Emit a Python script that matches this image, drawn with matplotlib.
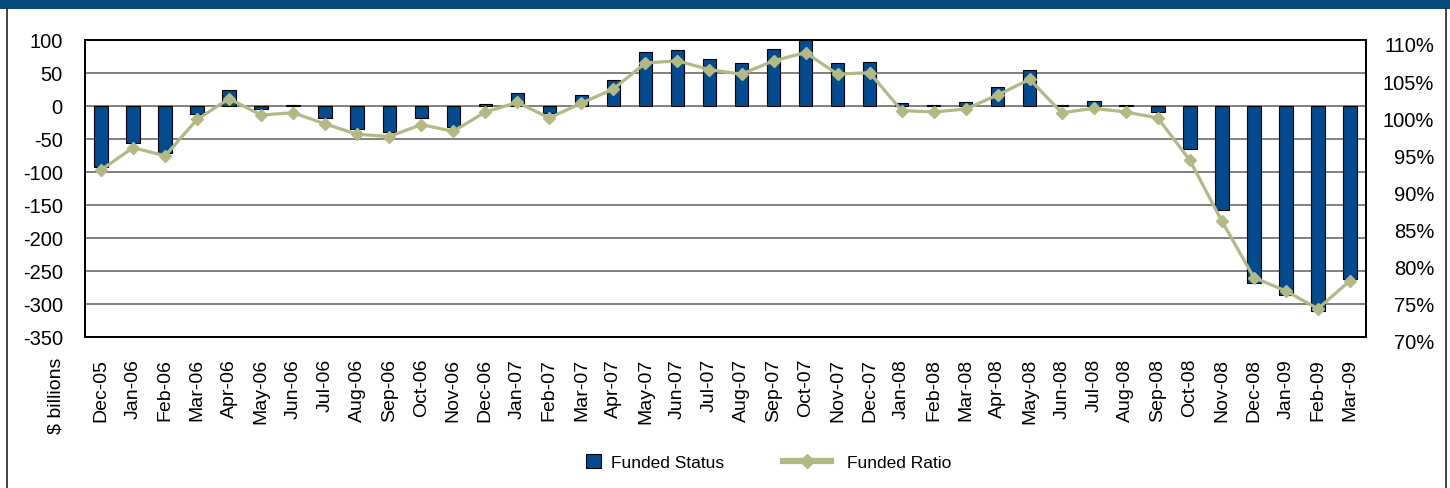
import matplotlib
matplotlib.use('Agg')
import matplotlib.pyplot as plt
from matplotlib.patches import Rectangle, Patch
from matplotlib.lines import Line2D
from matplotlib.transforms import ScaledTranslation
import numpy as np

plt.rcParams['font.family'] = ['Liberation Sans', 'DejaVu Sans']
plt.rcParams['axes.unicode_minus'] = False

months = ['Dec-05', 'Jan-06', 'Feb-06', 'Mar-06', 'Apr-06', 'May-06', 'Jun-06', 'Jul-06',
          'Aug-06', 'Sep-06', 'Oct-06', 'Nov-06', 'Dec-06', 'Jan-07', 'Feb-07', 'Mar-07',
          'Apr-07', 'May-07', 'Jun-07', 'Jul-07', 'Aug-07', 'Sep-07', 'Oct-07', 'Nov-07',
          'Dec-07', 'Jan-08', 'Feb-08', 'Mar-08', 'Apr-08', 'May-08', 'Jun-08', 'Jul-08',
          'Aug-08', 'Sep-08', 'Oct-08', 'Nov-08', 'Dec-08', 'Jan-09', 'Feb-09', 'Mar-09']

# Funded status, $ billions
funded_status = [-92, -56.5, -71.5, -11.5, 24, -4, 2, -17.5,
                 -35, -39, -18.5, -32, 3.5, 19, -10.5, 17,
                 39.5, 82.5, 85.5, 70.5, 65.5, 87, 100, 64.5,
                 67, 5, 2, 6.5, 29, 55, 1, 8,
                 2, -8.5, -65.5, -158, -268.5, -287, -310.5, -261.5]

# Funded ratio, %
funded_ratio = [92.5, 95.5, 94.4, 99.3, 102.1, 99.9, 100.2, 98.7,
                97.3, 97.0, 98.6, 97.7, 100.3, 101.6, 99.5, 101.5,
                103.4, 106.9, 107.2, 106.0, 105.4, 107.2, 108.3, 105.4,
                105.6, 100.5, 100.3, 100.7, 102.6, 104.7, 100.2, 100.8,
                100.3, 99.5, 93.8, 85.6, 78.0, 76.2, 73.8, 77.6]

left_ticks = [100, 50, 0, -50, -100, -150, -200, -250, -300, -350]
right_ticks = [110, 105, 100, 95, 90, 85, 80, 75, 70]

bar_color = '#034b8f'
line_color = '#b3b985'

fig = plt.figure(figsize=(14.5, 4.89), dpi=100)

# header band and frame
fig.add_artist(Rectangle((0, 1 - 10 / 489), 1, 10 / 489, transform=fig.transFigure,
                         facecolor='#054a7a', edgecolor='none'))
fig.add_artist(Line2D([7 / 1450, 7 / 1450], [0, 1 - 10 / 489], transform=fig.transFigure,
                      color='#222222', lw=1.2))
fig.add_artist(Line2D([1446 / 1450, 1446 / 1450], [0, 1 - 10 / 489], transform=fig.transFigure,
                      color='#222222', lw=1.2))

ax = fig.add_axes([85 / 1450, 151 / 489, 1281 / 1450, 297 / 489])
x = np.arange(len(months))
ax.bar(x, funded_status, width=0.42, color=bar_color, edgecolor='black', lw=0.8, zorder=3)
ax.set_xlim(-0.5, len(months) - 0.5)
ax.set_ylim(-350, 100)
ax.set_yticks(left_ticks)
ax.set_xticks(x)
ax.set_xticklabels(months, rotation=90, fontsize=14)
ax.tick_params(axis='x', length=0, pad=15)
ax.tick_params(axis='y', length=0, pad=16, labelsize=14.5)
ax.yaxis.grid(True, color='#808080', lw=1.4, zorder=0)
ax.set_axisbelow(True)
for s in ax.spines.values():
    s.set_color('black')
    s.set_linewidth(1.3)

ax2 = ax.twinx()
ax2.plot(x, funded_ratio, color=line_color, lw=2.3, marker='D', ms=5.8,
         markerfacecolor=line_color, markeredgecolor=line_color, zorder=4)
ax2.set_ylim(70, 110)
ax2.set_yticks(right_ticks)
ax2.set_yticklabels([f'{t}%' for t in right_ticks])
ax2.tick_params(axis='y', length=0, pad=49, labelsize=14.5)
for lab in ax2.get_yticklabels():
    lab.set_horizontalalignment('right')
    lab.set_transform(lab.get_transform() + ScaledTranslation(0, -4 / 100, fig.dpi_scale_trans))
for s in ax2.spines.values():
    s.set_color('black')
    s.set_linewidth(1.3)

fig.text(56 / 1450, 1 - 358 / 489, '$ billions', rotation=90, ha='center', va='top', fontsize=14)

# legend
fig.legend(handles=[Patch(facecolor=bar_color, edgecolor='black', lw=0.8)],
           labels=['Funded Status'], loc='center left',
           bbox_to_anchor=(586 / 1450, 1 - 463 / 489), frameon=False, fontsize=12.5,
           borderpad=0, borderaxespad=0, handlelength=0.86, handleheight=0.86,
           handletextpad=0.6)
fig.legend(handles=[Line2D([0], [0], color=line_color, lw=4.5, marker='D', ms=7,
                           markerfacecolor=line_color, markeredgecolor=line_color)],
           labels=['Funded Ratio'], loc='center left',
           bbox_to_anchor=(783 / 1450, 1 - 463 / 489), frameon=False, fontsize=12.5,
           borderpad=0, borderaxespad=0, handlelength=2.76, handletextpad=0.9)

plt.savefig('out.png', dpi=100)
